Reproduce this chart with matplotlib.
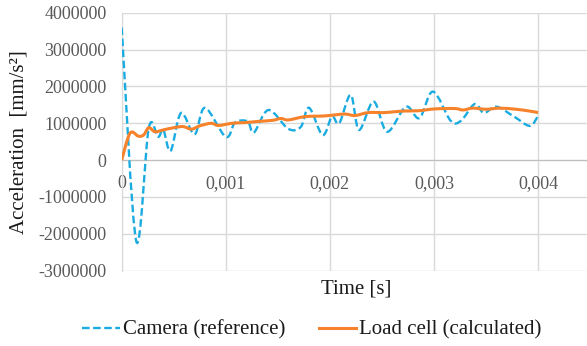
import matplotlib
matplotlib.use("Agg")
import matplotlib.pyplot as plt
from matplotlib.path import Path
from matplotlib.patches import PathPatch
from matplotlib.lines import Line2D
from matplotlib.ticker import FuncFormatter

# camera (reference) acceleration, mm/s^2
cam_t = [0, 0.00014, 0.00026, 0.00035, 0.0004, 0.00047, 0.00057, 0.0007, 0.0008,
         0.001, 0.00109, 0.00121, 0.00127, 0.00141, 0.0016, 0.00172, 0.0018,
         0.00193, 0.00202, 0.00209, 0.0022, 0.00228, 0.00242, 0.00255, 0.00273,
         0.00286, 0.00299, 0.00316, 0.00326, 0.00339, 0.00348, 0.0036, 0.00377,
         0.00392, 0.004]
cam_a = [3600000, -2200000, 870000, 630000, 820000, 250000, 1280000, 700000, 1420000,
         630000, 1020000, 1050000, 750000, 1360000, 850000, 900000, 1420000,
         680000, 1180000, 1000000, 1770000, 820000, 1590000, 770000, 1450000,
         1140000, 1860000, 1070000, 1070000, 1520000, 1280000, 1450000, 1180000,
         930000, 1200000]

# load cell (calculated) acceleration, mm/s^2
lc_t = [0, 0.00008, 0.00016, 0.00021, 0.00026, 0.00032, 0.0004, 0.0005, 0.00059,
        0.00067, 0.00075, 0.00086, 0.00093, 0.00106, 0.00119, 0.00131, 0.00145,
        0.00153, 0.0016, 0.00176, 0.00195, 0.00214, 0.00224, 0.00237, 0.00253,
        0.00269, 0.00285, 0.00301, 0.0032, 0.00328, 0.00337, 0.0035, 0.00363,
        0.00379, 0.00392, 0.004]
lc_a = [0, 730000, 650000, 680000, 880000, 770000, 820000, 880000, 910000,
        840000, 930000, 1000000, 940000, 1000000, 1020000, 1050000, 1080000,
        1130000, 1090000, 1180000, 1200000, 1250000, 1210000, 1290000, 1290000,
        1330000, 1340000, 1390000, 1400000, 1360000, 1410000, 1380000, 1410000,
        1380000, 1330000, 1290000]

x_ticks = [0, 0.001, 0.002, 0.003, 0.004]
y_ticks = [-3000000, -2000000, -1000000, 0, 1000000, 2000000, 3000000, 4000000]

CAM_COLOR = "#1AACE0"
LC_COLOR = "#F7822C"
GRID = "#D9D9D9"
TICK_COLOR = "#595959"
CAM_DASH = (0, (3.2, 1.5))


def smooth_path(xs, ys):
    # Catmull-Rom style bezier through the points (like a spreadsheet "smoothed line")
    pts = list(zip(xs, ys))
    verts = [pts[0]]
    codes = [Path.MOVETO]
    n = len(pts)
    for i in range(n - 1):
        p0 = pts[i - 1] if i > 0 else pts[i]
        p1 = pts[i]
        p2 = pts[i + 1]
        p3 = pts[i + 2] if i + 2 < n else pts[i + 1]
        c1 = (p1[0] + (p2[0] - p0[0]) / 6, p1[1] + (p2[1] - p0[1]) / 6)
        c2 = (p2[0] - (p3[0] - p1[0]) / 6, p2[1] - (p3[1] - p1[1]) / 6)
        verts += [c1, c2, p2]
        codes += [Path.CURVE4] * 3
    return Path(verts, codes)


plt.rcParams["font.family"] = ["Liberation Serif", "DejaVu Serif"]

fig = plt.figure(figsize=(5.87, 3.46), dpi=100)
ax = fig.add_axes([0.2073, 0.2176, 0.7927, 0.7457])

ax.set_xlim(0, 0.00447)
ax.set_ylim(-3000000, 4000000)
ax.set_xticks(x_ticks)
ax.set_yticks(y_ticks)
ax.xaxis.set_major_formatter(FuncFormatter(lambda v, p: "0" if v == 0 else f"{v:.3f}".replace(".", ",")))
ax.yaxis.set_major_formatter(FuncFormatter(lambda v, p: f"{int(round(v))}"))

ax.grid(True, color=GRID, linewidth=1.0)
ax.set_axisbelow(True)
for s in ["top", "right"]:
    ax.spines[s].set_visible(False)
ax.spines["left"].set_color(GRID)
ax.spines["bottom"].set_position(("data", 0))
ax.spines["bottom"].set_color("#BFBFBF")
ax.tick_params(axis="both", length=0, labelsize=13, labelcolor=TICK_COLOR)
ax.tick_params(axis="y", pad=11)
ax.tick_params(axis="x", pad=11)

ax.add_patch(PathPatch(smooth_path(cam_t, cam_a), fill=False, edgecolor=CAM_COLOR,
                       linewidth=1.7, linestyle=CAM_DASH, zorder=3))
ax.add_patch(PathPatch(smooth_path(lc_t, lc_a), fill=False, edgecolor=LC_COLOR,
                       linewidth=2.2, zorder=4))

ax.set_xlabel("Time [s]", fontsize=15, color="#1a1a1a")
ax.xaxis.set_label_coords(0.5046, -0.035)
fig.text(0.033, 0.2176 + 0.7457 / 2, "Acceleration  [mm/s²]", rotation=90,
         fontsize=15, color="#1a1a1a", ha="center", va="center")

handles = [Line2D([], [], color=CAM_COLOR, linewidth=1.7, linestyle=CAM_DASH),
           Line2D([], [], color=LC_COLOR, linewidth=2.2)]
fig.legend(handles, ["Camera (reference)", "Load cell (calculated)"], loc="center",
           bbox_to_anchor=(312 / 587, 1 - 330 / 346), ncol=2, frameon=False,
           fontsize=15, handlelength=1.8, handletextpad=0.15, columnspacing=1.6,
           labelcolor="#1a1a1a")

fig.savefig("out.png", dpi=100)
